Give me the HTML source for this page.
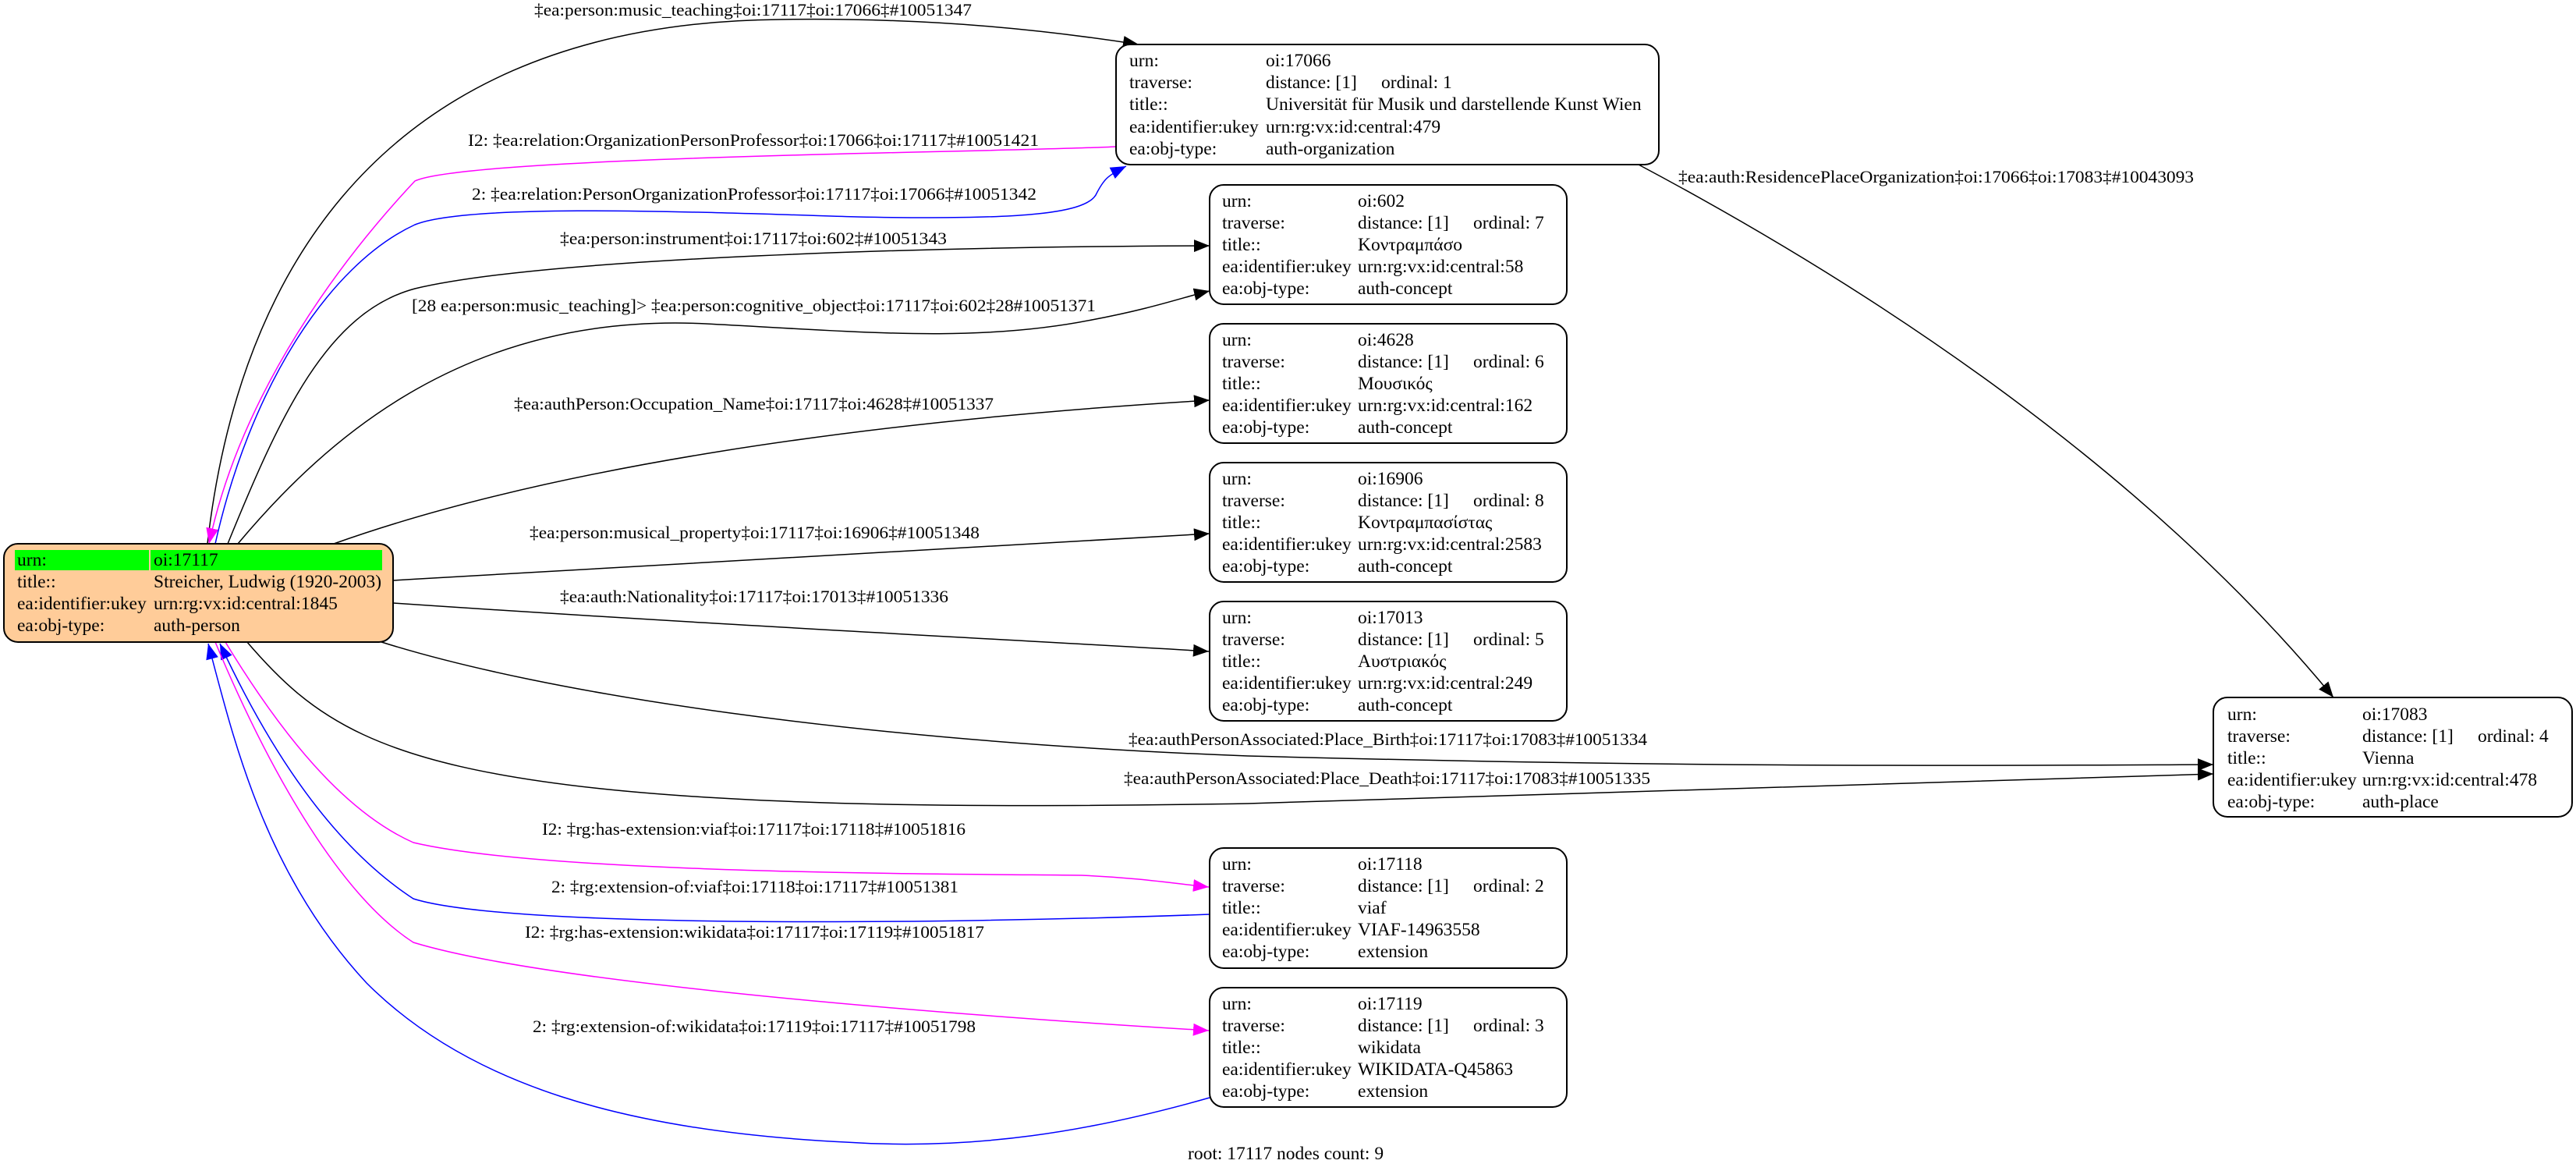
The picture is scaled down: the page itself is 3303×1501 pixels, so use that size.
<!DOCTYPE html>
<html><head><meta charset="utf-8"><style>
html,body{margin:0;padding:0;background:#fff;}
svg{display:block;}
text{font-family:"Liberation Serif",serif;font-size:22px;fill:#000;}
.n text{font-size:23.5px;}
</style></head><body>
<svg width="3303" height="1501" viewBox="0 0 3303 1501" xmlns="http://www.w3.org/2000/svg">
<defs>
<marker id="ak" markerUnits="userSpaceOnUse" markerWidth="22" markerHeight="16" refX="20" refY="8" orient="auto"><path d="M0,0 L20,8 L0,16 z" fill="#000"/></marker>
<marker id="am" markerUnits="userSpaceOnUse" markerWidth="22" markerHeight="16" refX="20" refY="8" orient="auto"><path d="M0,0 L20,8 L0,16 z" fill="#ff00ff"/></marker>
<marker id="ab" markerUnits="userSpaceOnUse" markerWidth="22" markerHeight="16" refX="20" refY="8" orient="auto"><path d="M0,0 L20,8 L0,16 z" fill="#0000ff"/></marker>
</defs>
<g fill="none" stroke-width="1.5">
<path d="M266,697 C300,400 450,30 1000,25 C1200,22 1350,40 1460,57" stroke="#000" marker-end="url(#ak)"/>
<path d="M1431,188 C1300,195 600,200 532,232 C440,330 310,500 268,697" stroke="#ff00ff" marker-end="url(#am)"/>
<path d="M276,697 C320,500 420,340 532,288 C600,260 900,272 1100,278 C1300,282 1390,275 1405,250 C1415,230 1420,225 1444,213" stroke="#0000ff" marker-end="url(#ab)"/>
<path d="M292,697 C360,530 420,400 532,370 C700,330 1200,316 1551,315" stroke="#000" marker-end="url(#ak)"/>
<path d="M305,697 C420,560 600,400 905,415 C1100,425 1250,440 1400,410 C1480,395 1520,380 1551,373" stroke="#000" marker-end="url(#ak)"/>
<path d="M428,697 C700,600 1100,540 1551,513" stroke="#000" marker-end="url(#ak)"/>
<path d="M504,744 C900,720 1300,700 1551,684" stroke="#000" marker-end="url(#ak)"/>
<path d="M504,773 C900,800 1300,820 1550,835" stroke="#000" marker-end="url(#ak)"/>
<path d="M486,822 C700,890 1100,950 1600,969 C2200,985 2600,981 2838,980" stroke="#000" marker-end="url(#ak)"/>
<path d="M316,822 C400,920 480,980 771,1011 C1000,1035 1300,1035 1600,1030 C2200,1015 2600,998 2838,992" stroke="#000" marker-end="url(#ak)"/>
<path d="M289,823 C360,940 440,1040 530,1080 C700,1120 1200,1120 1387,1122 C1460,1125 1510,1133 1550,1137" stroke="#ff00ff" marker-end="url(#am)"/>
<path d="M1551,1172 C1200,1185 650,1190 530,1152 C420,1080 340,950 282,825" stroke="#0000ff" marker-end="url(#ab)"/>
<path d="M276,823 C350,1000 440,1150 530,1208 C700,1260 1200,1300 1550,1321" stroke="#ff00ff" marker-end="url(#am)"/>
<path d="M1551,1407 C1400,1450 1250,1475 1084,1464 C800,1450 600,1390 470,1260 C340,1120 300,950 267,825" stroke="#0000ff" marker-end="url(#ab)"/>
<path d="M2101,211 C2400,370 2750,600 2992,894" stroke="#000" marker-end="url(#ak)"/>
</g>
<g>
<text x="685" y="20" textLength="561" lengthAdjust="spacingAndGlyphs">‡ea:person:music_teaching‡oi:17117‡oi:17066‡#10051347</text>
<text x="600" y="187" textLength="732" lengthAdjust="spacingAndGlyphs">I2: ‡ea:relation:OrganizationPersonProfessor‡oi:17066‡oi:17117‡#10051421</text>
<text x="605" y="256" textLength="724" lengthAdjust="spacingAndGlyphs">2: ‡ea:relation:PersonOrganizationProfessor‡oi:17117‡oi:17066‡#10051342</text>
<text x="718" y="313" textLength="496" lengthAdjust="spacingAndGlyphs">‡ea:person:instrument‡oi:17117‡oi:602‡#10051343</text>
<text x="528" y="399" textLength="877" lengthAdjust="spacingAndGlyphs">[28 ea:person:music_teaching]&gt; ‡ea:person:cognitive_object‡oi:17117‡oi:602‡28#10051371</text>
<text x="659" y="525" textLength="615" lengthAdjust="spacingAndGlyphs">‡ea:authPerson:Occupation_Name‡oi:17117‡oi:4628‡#10051337</text>
<text x="679" y="690" textLength="577" lengthAdjust="spacingAndGlyphs">‡ea:person:musical_property‡oi:17117‡oi:16906‡#10051348</text>
<text x="718" y="772" textLength="498" lengthAdjust="spacingAndGlyphs">‡ea:auth:Nationality‡oi:17117‡oi:17013‡#10051336</text>
<text x="1447" y="955" textLength="665" lengthAdjust="spacingAndGlyphs">‡ea:authPersonAssociated:Place_Birth‡oi:17117‡oi:17083‡#10051334</text>
<text x="1441" y="1005" textLength="675" lengthAdjust="spacingAndGlyphs">‡ea:authPersonAssociated:Place_Death‡oi:17117‡oi:17083‡#10051335</text>
<text x="695" y="1070" textLength="543" lengthAdjust="spacingAndGlyphs">I2: ‡rg:has-extension:viaf‡oi:17117‡oi:17118‡#10051816</text>
<text x="707" y="1144" textLength="522" lengthAdjust="spacingAndGlyphs">2: ‡rg:extension-of:viaf‡oi:17118‡oi:17117‡#10051381</text>
<text x="673" y="1202" textLength="589" lengthAdjust="spacingAndGlyphs">I2: ‡rg:has-extension:wikidata‡oi:17117‡oi:17119‡#10051817</text>
<text x="683" y="1323" textLength="568" lengthAdjust="spacingAndGlyphs">2: ‡rg:extension-of:wikidata‡oi:17119‡oi:17117‡#10051798</text>
<text x="2152" y="234" textLength="661" lengthAdjust="spacingAndGlyphs">‡ea:auth:ResidencePlaceOrganization‡oi:17066‡oi:17083‡#10043093</text>
<text x="1523" y="1486" style="font-size:23.5px">root: 17117 nodes count: 9</text>
</g>
<g class="n">
<!-- root -->
<rect x="5" y="697" width="499" height="126" rx="18" fill="#ffcc99" stroke="#000" stroke-width="2"/>
<rect x="19" y="705" width="172" height="26" fill="#00ff00"/>
<rect x="193" y="705" width="297" height="26" fill="#00ff00"/>
<text x="22" y="725">urn:</text><text x="197" y="725">oi:17117</text>
<text x="22" y="753">title::</text><text x="197" y="753">Streicher, Ludwig (1920-2003)</text>
<text x="22" y="781">ea:identifier:ukey</text><text x="197" y="781">urn:rg:vx:id:central:1845</text>
<text x="22" y="809">ea:obj-type:</text><text x="197" y="809">auth-person</text>
<!-- org -->
<rect x="1431" y="57" width="696" height="154" rx="18" fill="#fff" stroke="#000" stroke-width="2"/>
<text x="1448" y="85">urn:</text><text x="1623" y="85">oi:17066</text>
<text x="1448" y="113">traverse:</text><text x="1623" y="113">distance: [1]</text><text x="1771" y="113">ordinal: 1</text>
<text x="1448" y="141">title::</text><text x="1623" y="141">Universität für Musik und darstellende Kunst Wien</text>
<text x="1448" y="170">ea:identifier:ukey</text><text x="1623" y="170">urn:rg:vx:id:central:479</text>
<text x="1448" y="198">ea:obj-type:</text><text x="1623" y="198">auth-organization</text>
<!-- place -->
<rect x="2838" y="894" width="460" height="153" rx="18" fill="#fff" stroke="#000" stroke-width="2"/>
<text x="2856" y="923">urn:</text><text x="3029" y="923">oi:17083</text>
<text x="2856" y="951">traverse:</text><text x="3029" y="951">distance: [1]</text><text x="3177" y="951">ordinal: 4</text>
<text x="2856" y="979">title::</text><text x="3029" y="979">Vienna</text>
<text x="2856" y="1007">ea:identifier:ukey</text><text x="3029" y="1007">urn:rg:vx:id:central:478</text>
<text x="2856" y="1035">ea:obj-type:</text><text x="3029" y="1035">auth-place</text>
<!-- concept boxes -->
<g transform="translate(1551,237)">
<rect x="0" y="0" width="458" height="153" rx="18" fill="#fff" stroke="#000" stroke-width="2"/>
<text x="16" y="28">urn:</text><text x="190" y="28">oi:602</text>
<text x="16" y="56">traverse:</text><text x="190" y="56">distance: [1]</text><text x="338" y="56">ordinal: 7</text>
<text x="16" y="84">title::</text><text x="190" y="84">Κοντραμπάσο</text>
<text x="16" y="112">ea:identifier:ukey</text><text x="190" y="112">urn:rg:vx:id:central:58</text>
<text x="16" y="140">ea:obj-type:</text><text x="190" y="140">auth-concept</text>
</g>
<g transform="translate(1551,415)">
<rect x="0" y="0" width="458" height="153" rx="18" fill="#fff" stroke="#000" stroke-width="2"/>
<text x="16" y="28">urn:</text><text x="190" y="28">oi:4628</text>
<text x="16" y="56">traverse:</text><text x="190" y="56">distance: [1]</text><text x="338" y="56">ordinal: 6</text>
<text x="16" y="84">title::</text><text x="190" y="84">Μουσικός</text>
<text x="16" y="112">ea:identifier:ukey</text><text x="190" y="112">urn:rg:vx:id:central:162</text>
<text x="16" y="140">ea:obj-type:</text><text x="190" y="140">auth-concept</text>
</g>
<g transform="translate(1551,593)">
<rect x="0" y="0" width="458" height="153" rx="18" fill="#fff" stroke="#000" stroke-width="2"/>
<text x="16" y="28">urn:</text><text x="190" y="28">oi:16906</text>
<text x="16" y="56">traverse:</text><text x="190" y="56">distance: [1]</text><text x="338" y="56">ordinal: 8</text>
<text x="16" y="84">title::</text><text x="190" y="84">Κοντραμπασίστας</text>
<text x="16" y="112">ea:identifier:ukey</text><text x="190" y="112">urn:rg:vx:id:central:2583</text>
<text x="16" y="140">ea:obj-type:</text><text x="190" y="140">auth-concept</text>
</g>
<g transform="translate(1551,771)">
<rect x="0" y="0" width="458" height="153" rx="18" fill="#fff" stroke="#000" stroke-width="2"/>
<text x="16" y="28">urn:</text><text x="190" y="28">oi:17013</text>
<text x="16" y="56">traverse:</text><text x="190" y="56">distance: [1]</text><text x="338" y="56">ordinal: 5</text>
<text x="16" y="84">title::</text><text x="190" y="84">Αυστριακός</text>
<text x="16" y="112">ea:identifier:ukey</text><text x="190" y="112">urn:rg:vx:id:central:249</text>
<text x="16" y="140">ea:obj-type:</text><text x="190" y="140">auth-concept</text>
</g>
<g transform="translate(1551,1087)">
<rect x="0" y="0" width="458" height="154" rx="18" fill="#fff" stroke="#000" stroke-width="2"/>
<text x="16" y="28">urn:</text><text x="190" y="28">oi:17118</text>
<text x="16" y="56">traverse:</text><text x="190" y="56">distance: [1]</text><text x="338" y="56">ordinal: 2</text>
<text x="16" y="84">title::</text><text x="190" y="84">viaf</text>
<text x="16" y="112">ea:identifier:ukey</text><text x="190" y="112">VIAF-14963558</text>
<text x="16" y="140">ea:obj-type:</text><text x="190" y="140">extension</text>
</g>
<g transform="translate(1551,1266)">
<rect x="0" y="0" width="458" height="153" rx="18" fill="#fff" stroke="#000" stroke-width="2"/>
<text x="16" y="28">urn:</text><text x="190" y="28">oi:17119</text>
<text x="16" y="56">traverse:</text><text x="190" y="56">distance: [1]</text><text x="338" y="56">ordinal: 3</text>
<text x="16" y="84">title::</text><text x="190" y="84">wikidata</text>
<text x="16" y="112">ea:identifier:ukey</text><text x="190" y="112">WIKIDATA-Q45863</text>
<text x="16" y="140">ea:obj-type:</text><text x="190" y="140">extension</text>
</g>
</g>
</svg>
</body></html>
